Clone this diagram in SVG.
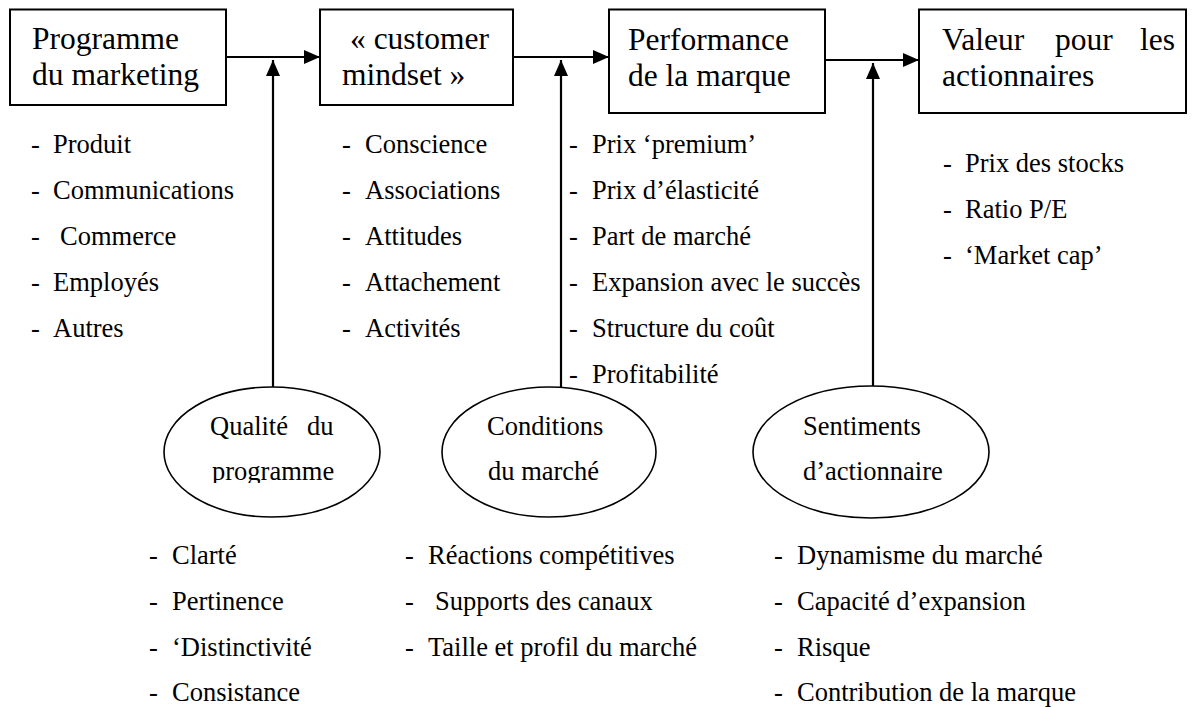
<svg xmlns="http://www.w3.org/2000/svg" width="1193" height="707" viewBox="0 0 1193 707">
<defs>
<style>
text{font-family:"Liberation Serif","Times New Roman",serif;fill:#000}
.bt{font-size:31.5px}
.lt{font-size:26.5px}
.box{fill:#fff;stroke:#000;stroke-width:2}
.ell{fill:#fff;stroke:#000;stroke-width:1.6}
.con{stroke:#000;stroke-width:2.2;fill:none}
</style>
<marker id="ah" viewBox="0 0 16 14" refX="16" refY="7" markerWidth="16" markerHeight="14" markerUnits="userSpaceOnUse" orient="auto">
<path d="M0,0 L16,7 L0,14 Z" fill="#000"/>
</marker>
<clipPath id="clipQ"><rect x="150" y="380" width="250" height="103"/></clipPath>
</defs>
<rect width="1193" height="707" fill="#fff"/>

<g id="connectors">
<line class="con" x1="226" y1="57" x2="320" y2="57" marker-end="url(#ah)"/>
<line class="con" x1="513" y1="57" x2="609" y2="57" marker-end="url(#ah)"/>
<line class="con" x1="825" y1="60" x2="919" y2="60" marker-end="url(#ah)"/>
<line class="con" x1="273" y1="387" x2="273" y2="60" marker-end="url(#ah)"/>
<line class="con" x1="561" y1="387" x2="561" y2="60" marker-end="url(#ah)"/>
<line class="con" x1="873" y1="386" x2="873" y2="63" marker-end="url(#ah)"/>
</g>

<g id="node-programme">
<rect class="box" x="10" y="9.5" width="216" height="95.5"/>
<text class="bt" x="32" y="49">Programme</text>
<text class="bt" x="32" y="85">du marketing</text>
</g>
<g id="node-mindset">
<rect class="box" x="320" y="9.5" width="193" height="95.5"/>
<text class="bt" x="350" y="49">« customer</text>
<text class="bt" x="342" y="85">mindset »</text>
</g>
<g id="node-performance">
<rect class="box" x="609" y="9.5" width="216" height="103.5"/>
<text class="bt" x="628" y="50">Performance</text>
<text class="bt" x="628" y="86">de la marque</text>
</g>
<g id="node-valeur">
<rect class="box" x="919" y="9.5" width="267" height="103.5"/>
<text class="bt" x="942" y="50">Valeur</text>
<text class="bt" x="1055" y="50">pour</text>
<text class="bt" x="1140" y="50">les</text>
<text class="bt" x="942" y="86">actionnaires</text>
</g>

<g id="list-programme" class="lt">
<text class="lt" x="31" y="153">-</text><text class="lt" x="53" y="153">Produit</text>
<text class="lt" x="31" y="199">-</text><text class="lt" x="53" y="199">Communications</text>
<text class="lt" x="31" y="245">-</text><text class="lt" x="60" y="245">Commerce</text>
<text class="lt" x="31" y="291">-</text><text class="lt" x="53" y="291">Employés</text>
<text class="lt" x="31" y="337">-</text><text class="lt" x="53" y="337">Autres</text>
</g>
<g id="list-mindset">
<text class="lt" x="342" y="153">-</text><text class="lt" x="365" y="153">Conscience</text>
<text class="lt" x="342" y="199">-</text><text class="lt" x="365" y="199">Associations</text>
<text class="lt" x="342" y="245">-</text><text class="lt" x="365" y="245">Attitudes</text>
<text class="lt" x="342" y="291">-</text><text class="lt" x="365" y="291">Attachement</text>
<text class="lt" x="342" y="337">-</text><text class="lt" x="365" y="337">Activités</text>
</g>
<g id="list-performance">
<text class="lt" x="569" y="153">-</text><text class="lt" x="592" y="153">Prix ‘premium’</text>
<text class="lt" x="569" y="199">-</text><text class="lt" x="592" y="199">Prix d’élasticité</text>
<text class="lt" x="569" y="245">-</text><text class="lt" x="592" y="245">Part de marché</text>
<text class="lt" x="569" y="291">-</text><text class="lt" x="592" y="291">Expansion avec le succès</text>
<text class="lt" x="569" y="337">-</text><text class="lt" x="592" y="337">Structure du coût</text>
<text class="lt" x="569" y="383">-</text><text class="lt" x="592" y="383">Profitabilité</text>
</g>
<g id="list-valeur">
<text class="lt" x="943" y="172">-</text><text class="lt" x="965" y="172">Prix des stocks</text>
<text class="lt" x="943" y="218">-</text><text class="lt" x="965" y="218">Ratio P/E</text>
<text class="lt" x="943" y="264">-</text><text class="lt" x="965" y="264">‘Market cap’</text>
</g>

<g id="node-qualite">
<ellipse class="ell" cx="272" cy="452" rx="108" ry="65"/>
<text class="lt" x="210" y="435">Qualité</text>
<text class="lt" x="307" y="435">du</text>
<text class="lt" x="212" y="480" clip-path="url(#clipQ)">programme</text>
</g>
<g id="node-conditions">
<ellipse class="ell" cx="549" cy="452" rx="107" ry="65"/>
<text class="lt" x="487" y="435">Conditions</text>
<text class="lt" x="488" y="480">du marché</text>
</g>
<g id="node-sentiments">
<ellipse class="ell" cx="871" cy="452" rx="118" ry="66"/>
<text class="lt" x="803" y="435">Sentiments</text>
<text class="lt" x="803" y="480">d’actionnaire</text>
</g>

<g id="list-qualite">
<text class="lt" x="149" y="564">-</text><text class="lt" x="172" y="564">Clarté</text>
<text class="lt" x="149" y="610">-</text><text class="lt" x="172" y="610">Pertinence</text>
<text class="lt" x="149" y="656">-</text><text class="lt" x="172" y="656">‘Distinctivité</text>
<text class="lt" x="149" y="701">-</text><text class="lt" x="172" y="701">Consistance</text>
</g>
<g id="list-conditions">
<text class="lt" x="405" y="564">-</text><text class="lt" x="428" y="564">Réactions compétitives</text>
<text class="lt" x="405" y="610">-</text><text class="lt" x="435" y="610">Supports des canaux</text>
<text class="lt" x="405" y="656">-</text><text class="lt" x="428" y="656">Taille et profil du marché</text>
</g>
<g id="list-sentiments">
<text class="lt" x="774" y="564">-</text><text class="lt" x="797" y="564">Dynamisme du marché</text>
<text class="lt" x="774" y="610">-</text><text class="lt" x="797" y="610">Capacité d’expansion</text>
<text class="lt" x="774" y="656">-</text><text class="lt" x="797" y="656">Risque</text>
<text class="lt" x="774" y="701">-</text><text class="lt" x="797" y="701">Contribution de la marque</text>
</g>
</svg>
